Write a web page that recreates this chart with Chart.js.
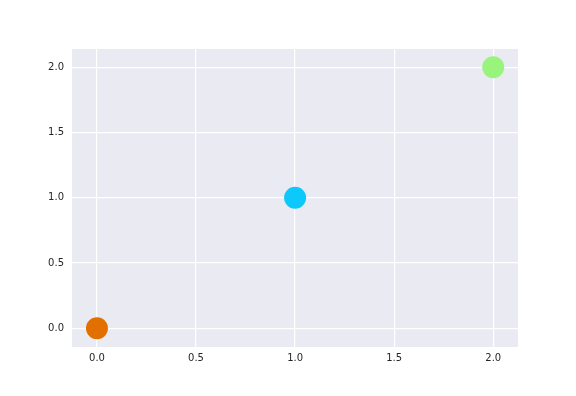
<!DOCTYPE html>
<html>
<head>
<meta charset="utf-8">
<script src="https://cdn.jsdelivr.net/npm/chart.js@4/dist/chart.umd.min.js"></script>
<style>
  html, body { margin: 0; padding: 0; background: #fff; }
  #wrap { width: 576px; height: 396px; }
</style>
</head>
<body>
<div id="wrap"><canvas id="chart" width="576" height="396"></canvas></div>
<script>
//----- data -----//
const xValues = [0, 1, 2];
const yValues = [0, 1, 2];
const pointColors = ['#e17000', '#0dc8fb', '#98f47a'];
const xTickValues = [0, 0.5, 1, 1.5, 2];
const yTickValues = [0, 0.5, 1, 1.5, 2];

let points = [];
for (let i = 0; i < xValues.length; i++) {
  points.push({ x: xValues[i], y: yValues[i] });
}

//paint the grey plot area like seaborn darkgrid
const plotBackground = {
  id: 'plotBackground',
  beforeDraw(chart) {
    const a = chart.chartArea;
    const ctx = chart.ctx;
    ctx.save();
    ctx.fillStyle = '#eaeaf2';
    ctx.fillRect(a.left, a.top, a.right - a.left, a.bottom - a.top);
    ctx.restore();
  }
};

function keepTicks(values) {
  return function (scale) {
    scale.ticks = values.map(v => ({ value: v }));
  };
}

const tickFont = { family: 'DejaVu Sans', size: 10 };

new Chart(document.getElementById('chart'), {
  type: 'scatter',
  data: {
    datasets: [{
      data: points,
      backgroundColor: pointColors,
      borderColor: pointColors,
      borderWidth: 0,
      pointRadius: 11,
      pointHoverRadius: 11
    }]
  },
  options: {
    responsive: false,
    animation: false,
    layout: { padding: { left: 0, right: 58, top: 49, bottom: 18 } },
    plugins: { legend: { display: false }, tooltip: { enabled: false } },
    scales: {
      x: {
        type: 'linear',
        min: -0.126,
        max: 2.125,
        afterBuildTicks: keepTicks(xTickValues),
        afterFit(scale) { scale.height = 31; },
        grid: { color: '#ffffff', lineWidth: 1.2, drawTicks: false },
        border: { display: false },
        ticks: {
          padding: 5,
          color: '#262626',
          font: tickFont,
          maxRotation: 0,
          callback: v => v.toFixed(1)
        }
      },
      y: {
        type: 'linear',
        min: -0.143,
        max: 2.14,
        afterBuildTicks: keepTicks(yTickValues),
        afterFit(scale) { scale.width = 72; },
        grid: { color: '#ffffff', lineWidth: 1.2, drawTicks: false },
        border: { display: false },
        ticks: {
          padding: 8,
          color: '#262626',
          font: tickFont,
          callback: v => v.toFixed(1)
        }
      }
    }
  },
  plugins: [plotBackground]
});
</script>
</body>
</html>
